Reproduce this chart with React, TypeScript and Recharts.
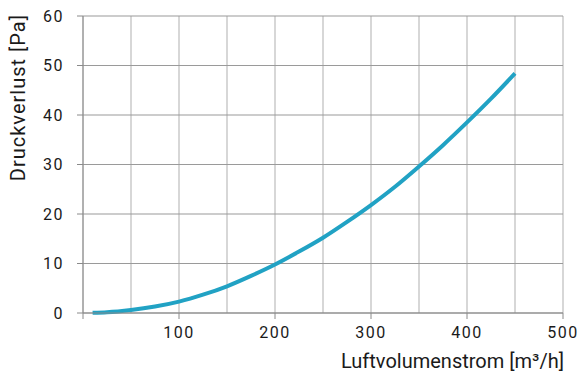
import React from 'react';
import { LineChart, Line, XAxis, YAxis, CartesianGrid, Label } from 'recharts';

const airflow = [10, 25, 50, 75, 100, 125, 150, 175, 200, 225, 250, 275, 300, 325, 350, 375, 400, 425, 450];
const pressureDrop = [0.05, 0.15, 0.6, 1.3, 2.3, 3.7, 5.4, 7.5, 9.8, 12.4, 15.2, 18.4, 21.8, 25.5, 29.6, 33.9, 38.5, 43.3, 48.4];
const xLabelTicks = [0, 100, 200, 300, 400, 500];
const xGridTicks = [0, 50, 100, 150, 200, 250, 300, 350, 400, 450, 500];
const yTicks = [0, 10, 20, 30, 40, 50, 60];
const xTitle = 'Luftvolumenstrom [m³/h]';
const yTitle = 'Druckverlust [Pa]';

const data = airflow.map((q, i) => ({ q, p: pressureDrop[i] }));

const FONT = 'Roboto, "DejaVu Sans", sans-serif';

export default function App() {
  return (
    <div style={{ position: 'absolute', left: 0, top: 0, width: 582, height: 376, background: '#fff' }}>
      <LineChart width={582} height={376} data={data} margin={{ top: 16, right: 19, bottom: 0, left: 0 }}>
        <CartesianGrid xAxisId="grid" horizontal={false} vertical={true} stroke="#bdbdbd" strokeWidth={1.2} />
        <CartesianGrid xAxisId="grid" horizontal={true} vertical={false} stroke="#9a9a9a" strokeWidth={1.2} />
        <XAxis
          xAxisId="grid"
          dataKey="q"
          type="number"
          domain={[0, 500]}
          ticks={xGridTicks}
          hide
        />
        <XAxis
          dataKey="q"
          type="number"
          domain={[0, 500]}
          ticks={xLabelTicks}
          tickFormatter={(v: number) => (v === 0 ? '' : String(v))}
          height={63}
          stroke="#8a8a8a"
          tickSize={6}
          tickMargin={8}
          tick={{ fill: '#1a1a1a', fontSize: 16, fontFamily: FONT, fontWeight: 400, letterSpacing: 1.5 }}
        >
          <Label
            content={({ viewBox }: any) => (
              <text
                x={viewBox.x + viewBox.width + 1}
                y={viewBox.y + 55}
                textAnchor="end"
                fill="#1a1a1a"
                fontSize={20}
                fontFamily={FONT}
              >
                {xTitle}
              </text>
            )}
          />
        </XAxis>
        <YAxis
          type="number"
          domain={[0, 60]}
          ticks={yTicks}
          width={83}
          stroke="#8a8a8a"
          tickSize={6}
          tickMargin={13}
          tick={{ fill: '#1a1a1a', fontSize: 16, fontFamily: FONT, fontWeight: 400, letterSpacing: 1.5 }}
        >
          <Label
            content={({ viewBox }: any) => (
              <text
                x={0}
                y={0}
                transform={`translate(${viewBox.x + 25}, ${viewBox.y - 2}) rotate(-90)`}
                textAnchor="end"
                fill="#1a1a1a"
                fontSize={20}
                letterSpacing={1}
                fontFamily={FONT}
              >
                {yTitle}
              </text>
            )}
          />
        </YAxis>
        <Line
          dataKey="p"
          type="monotone"
          stroke="#21a2c4"
          strokeWidth={4}
          dot={false}
          isAnimationActive={false}
        />
      </LineChart>
    </div>
  );
}
